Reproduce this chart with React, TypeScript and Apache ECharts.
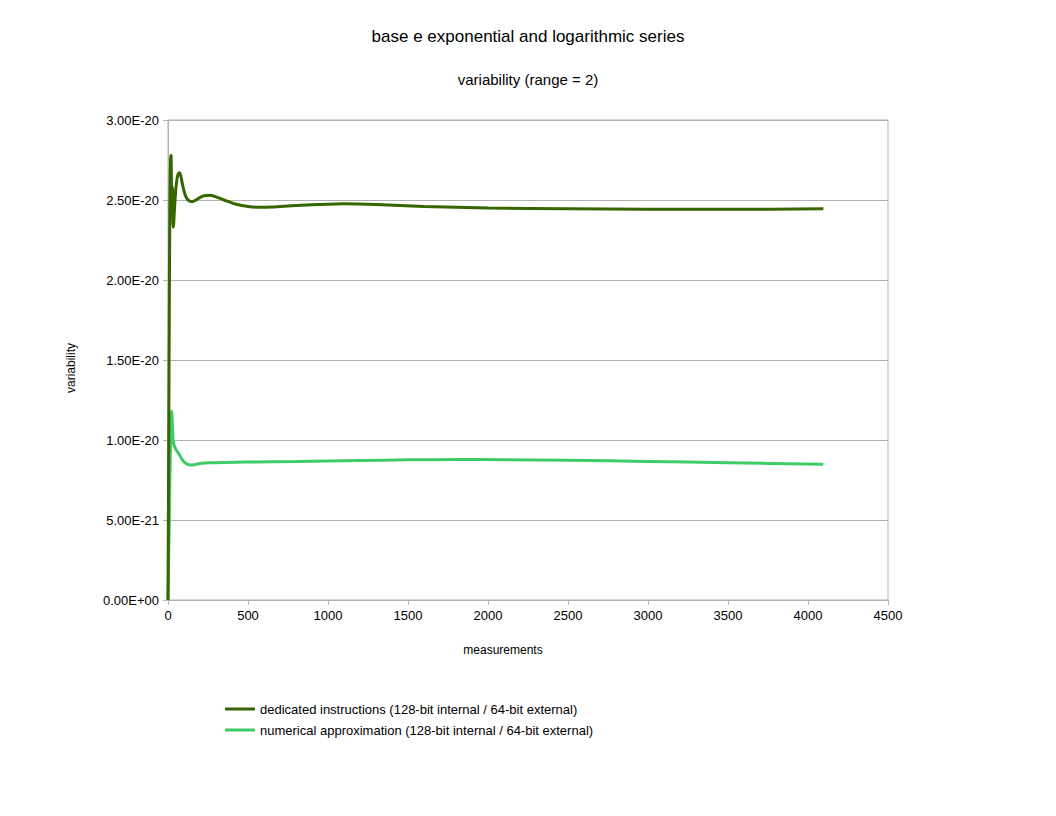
import React, { useEffect, useRef } from "react";
import * as echarts from "echarts";

// values are in units of 1e-20
const SCALE = 1e-20;

const dedicatedX = [0, 4, 8, 12, 16, 19, 22, 25, 28, 31, 34, 38, 44, 52, 62, 72, 80, 92, 108, 125, 145, 165, 190, 220, 260, 300, 350, 420, 500, 560, 650, 800, 1000, 1100, 1300, 1600, 2000, 2500, 3000, 3500, 4096];
const dedicatedY = [0, 0.9, 1.8, 2.5, 2.75, 2.78, 2.55, 2.42, 2.58, 2.36, 2.33, 2.4, 2.5, 2.6, 2.66, 2.67, 2.65, 2.59, 2.53, 2.5, 2.49, 2.495, 2.51, 2.525, 2.53, 2.52, 2.5, 2.475, 2.46, 2.455, 2.457, 2.466, 2.474, 2.476, 2.472, 2.46, 2.45, 2.445, 2.442, 2.442, 2.445];

const approxX = [0, 8, 15, 20, 23, 27, 32, 37, 50, 70, 90, 110, 130, 150, 175, 210, 262, 350, 500, 800, 1200, 1500, 1800, 2100, 2500, 3000, 3500, 4096];
const approxY = [0, 0.5, 0.95, 1.15, 1.18, 1.1, 1.0, 0.97, 0.94, 0.91, 0.875, 0.855, 0.845, 0.843, 0.848, 0.855, 0.858, 0.86, 0.862, 0.865, 0.872, 0.876, 0.878, 0.877, 0.873, 0.866, 0.858, 0.848];

const seriesNames = [
  "dedicated instructions (128-bit internal / 64-bit external)",
  "numerical approximation (128-bit internal / 64-bit external)",
];
const seriesColors = ["#356600", "#3dcc66"];

const FONT = "Liberation Sans, Arial, sans-serif";

function fmtExp(v: number): string {
  const s = (v * SCALE).toExponential(2).toUpperCase();
  const m = s.match(/^(-?[\d.]+)E([+-])(\d+)$/);
  if (!m) return s;
  const e = m[3].length < 2 ? "0" + m[3] : m[3];
  return `${m[1]}E${m[2]}${e}`;
}

export default function App() {
  const ref = useRef<HTMLDivElement>(null);
  useEffect(() => {
    document.body.style.margin = "0";
    if (!ref.current) return;
    const chart = echarts.init(ref.current, undefined, { renderer: "svg" });
    const pairs = (xs: number[], ys: number[]) => xs.map((x, i) => [x, ys[i]]);
    chart.setOption({
      animation: false,
      backgroundColor: "#ffffff",
      textStyle: { fontFamily: FONT },
      title: [
        {
          text: "base e exponential and logarithmic series",
          left: "center",
          top: 23,
          textStyle: { fontFamily: FONT, fontSize: 17, fontWeight: "normal", color: "#000" },
        },
        {
          text: "variability (range = 2)",
          left: "center",
          top: 67,
          textStyle: { fontFamily: FONT, fontSize: 15, fontWeight: "normal", color: "#000" },
        },
      ],
      legend: {
        orient: "vertical",
        left: 220,
        top: 697,
        itemWidth: 30,
        itemHeight: 3,
        itemGap: 7,
        itemTextGap: 4,
        icon: "rect",
        textStyle: { fontFamily: FONT, fontSize: 13, color: "#000", lineHeight: 14 },
        data: seriesNames,
      },
      grid: {
        left: 168,
        right: 168,
        top: 120,
        bottom: 216,
        show: true,
        borderColor: "#b3b3b3",
        borderWidth: 1,
        containLabel: false,
      },
      xAxis: {
        type: "value",
        min: 0,
        max: 4500,
        interval: 500,
        name: "measurements",
        nameLocation: "middle",
        nameGap: 44,
        nameTextStyle: { fontFamily: FONT, fontSize: 12, color: "#000", padding: [0, 50, 0, 0] },
        axisLine: { show: true, lineStyle: { color: "#b3b3b3" } },
        axisTick: { show: true, length: 5, lineStyle: { color: "#b3b3b3" } },
        axisLabel: { fontFamily: FONT, fontSize: 13, color: "#000", margin: 9, formatter: (v: number) => String(v) },
        splitLine: { show: false },
      },
      yAxis: {
        type: "value",
        min: 0,
        max: 3,
        interval: 0.5,
        name: "variability",
        nameLocation: "middle",
        nameGap: 91,
        nameRotate: 90,
        nameTextStyle: { fontFamily: FONT, fontSize: 12, color: "#000", padding: [0, 16, 0, 0] },
        axisLine: { show: true, lineStyle: { color: "#b3b3b3" } },
        axisTick: { show: true, length: 5, lineStyle: { color: "#b3b3b3" } },
        axisLabel: { fontFamily: FONT, fontSize: 13, color: "#000", margin: 9, formatter: fmtExp },
        splitLine: { show: true, lineStyle: { color: "#b3b3b3", width: 1 } },
      },
      series: [
        {
          name: seriesNames[1],
          type: "line",
          data: pairs(approxX, approxY),
          showSymbol: false,
          symbol: "none",
          smooth: 0.3,
          z: 2,
          color: seriesColors[1],
          lineStyle: { color: seriesColors[1], width: 3 },
        },
        {
          name: seriesNames[0],
          type: "line",
          data: pairs(dedicatedX, dedicatedY),
          showSymbol: false,
          symbol: "none",
          smooth: 0.3,
          z: 3,
          color: seriesColors[0],
          lineStyle: { color: seriesColors[0], width: 3 },
        },
      ],
    });
    return () => chart.dispose();
  }, []);
  return <div ref={ref} style={{ width: 1056, height: 816 }} />;
}
